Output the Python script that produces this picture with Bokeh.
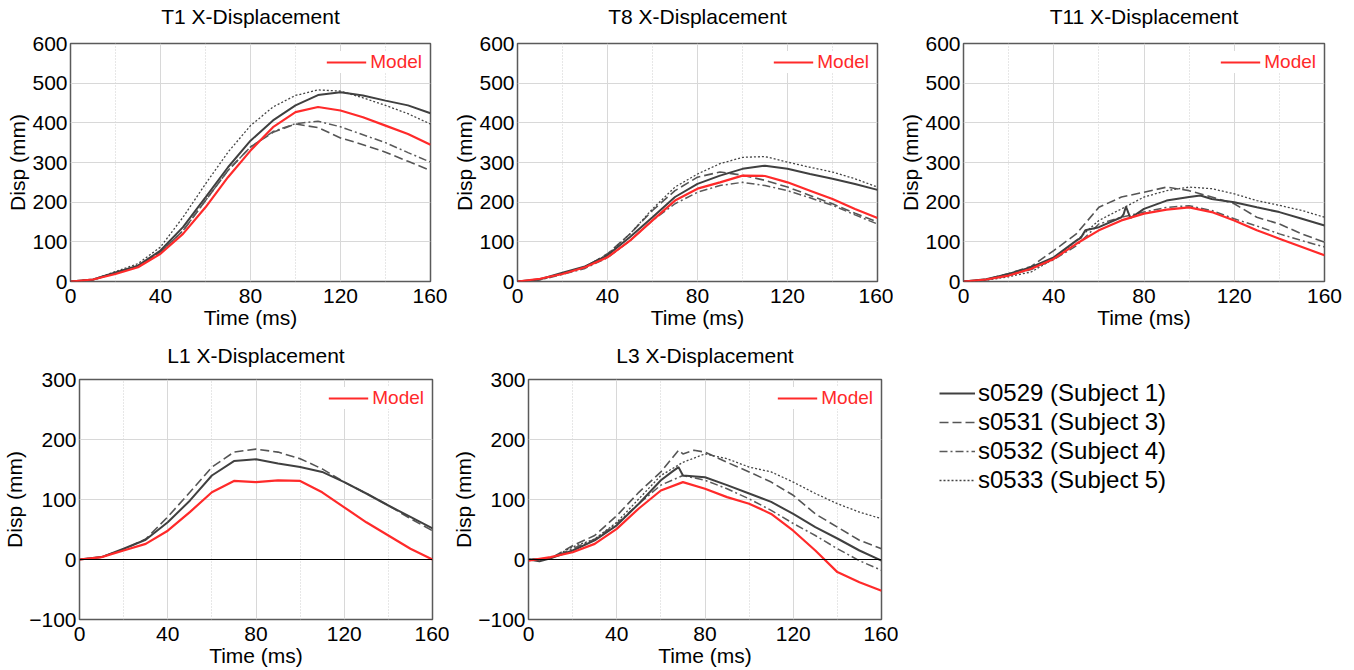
from bokeh.plotting import figure
from bokeh.layouts import row, column
from bokeh.models import Legend, LegendItem, Span, FixedTicker, Range1d, Title
from bokeh.embed import file_html
from bokeh.resources import INLINE

FONT = "Liberation Sans"

# ---------------- data ----------------
T = [0, 10, 20, 30, 40, 50, 60, 70, 80, 90, 100, 110, 120, 130, 140, 150, 160]

# T1 X-Displacement
t1_model = [0, 5, 19, 36, 70, 120, 187, 263, 330, 389, 427, 440, 431, 414, 393, 372, 345]
t1_s0529 = [0, 5, 23, 40, 78, 137, 212, 288, 355, 406, 444, 470, 477, 469, 456, 444, 424]
t1_s0531 = [0, 4, 22, 39, 74, 128, 204, 280, 339, 376, 397, 388, 362, 345, 326, 303, 280]
t1_s0532 = [0, 4, 22, 39, 74, 128, 204, 280, 339, 378, 398, 404, 390, 370, 350, 325, 301]
t1_s0533 = [0, 5, 25, 45, 87, 162, 246, 326, 393, 440, 469, 483, 480, 463, 444, 423, 397]

# T8 X-Displacement
t8_model = [0, 7, 19, 36, 61, 103, 154, 204, 234, 250, 267, 266, 250, 229, 208, 183, 160]
t8_s0529 = [0, 6, 22, 38, 66, 112, 162, 213, 246, 267, 284, 292, 284, 271, 259, 246, 231]
t8_s0531 = [0, 5, 20, 36, 70, 120, 179, 229, 263, 276, 268, 255, 238, 217, 196, 172, 150]
t8_s0532 = [0, 4, 18, 33, 60, 103, 154, 196, 225, 242, 250, 242, 229, 211, 192, 168, 145]
t8_s0533 = [0, 5, 20, 38, 68, 120, 183, 238, 271, 297, 313, 315, 301, 288, 276, 259, 238]

# T11 X-Displacement
t11_model = [0, 5, 15, 32, 57, 95, 129, 154, 171, 181, 187, 175, 154, 129, 108, 87, 66]
t11_s0529_t = [0, 10, 20, 30, 40, 50, 52, 54, 60, 70, 71, 72, 74, 80, 90, 100, 105, 110, 120, 130, 140, 150, 160]
t11_s0529 = [0, 6, 19, 36, 61, 103, 110, 129, 137, 162, 170, 189, 160, 183, 204, 213, 217, 208, 200, 187, 175, 158, 141]
t11_s0531 = [0, 5, 20, 38, 78, 120, 187, 213, 225, 238, 229, 213, 196, 162, 145, 120, 99]
t11_s0532 = [0, 4, 15, 30, 55, 90, 145, 162, 175, 187, 191, 179, 158, 140, 120, 103, 87]
t11_s0533 = [0, 3, 12, 24, 57, 103, 154, 183, 213, 229, 238, 234, 221, 204, 192, 179, 162]

# L1 X-Displacement
l1_model = [0, 4, 15, 26, 48, 79, 112, 131, 129, 132, 131, 112, 87, 62, 40, 18, 0]
l1_s0529 = [0, 4, 18, 33, 62, 98, 140, 164, 167, 160, 154, 146, 129, 110, 90, 71, 52]
l1_s0531 = [0, 4, 17, 34, 71, 112, 154, 179, 184, 179, 168, 151, 129, 110, 90, 68, 48]

# L3 X-Displacement
l3_model = [-2, 4, 12, 26, 51, 85, 115, 129, 118, 104, 93, 76, 48, 15, -21, -38, -52]
l3_s0529_t = [0, 5, 10, 20, 30, 40, 50, 60, 65, 68, 70, 80, 90, 100, 110, 120, 130, 140, 150, 160]
l3_s0529 = [0, -3, 2, 15, 32, 57, 93, 132, 146, 154, 140, 137, 124, 110, 96, 76, 54, 35, 15, -2]
l3_s0531_t = [0, 10, 20, 30, 40, 50, 60, 68, 70, 75, 80, 90, 100, 110, 120, 130, 140, 150, 160]
l3_s0531 = [0, 2, 23, 40, 73, 112, 146, 182, 176, 182, 179, 162, 146, 129, 107, 76, 54, 32, 18]
l3_s0532 = [0, 2, 18, 34, 60, 93, 124, 140, 132, 118, 101, 82, 60, 40, 18, -2, -18]
l3_s0533 = [0, 2, 21, 34, 62, 101, 140, 162, 176, 168, 154, 146, 129, 110, 93, 79, 68]

x_ticks = [0, 40, 80, 120, 160]
x_minor = [20, 60, 100, 140]
y_ticks_t = [0, 100, 200, 300, 400, 500, 600]
y_ticks_l = [-100, 0, 100, 200, 300]

subject_keys = ["s0529", "s0531", "s0532", "s0533"]
subject_names = ["s0529 (Subject 1)", "s0531 (Subject 3)", "s0532 (Subject 4)", "s0533 (Subject 5)"]

# ---------------- styles ----------------
RED = "#ff2a2a"
STYLES = {
    "s0529": dict(line_color="#404040", line_width=2.0, line_dash="solid"),
    "s0531": dict(line_color="#555555", line_width=1.6, line_dash="9 4"),
    "s0532": dict(line_color="#5a5a5a", line_width=1.5, line_dash="8 3 2 3"),
    "s0533": dict(line_color="#444444", line_width=1.3, line_dash="2 2"),
}


def make_panel(title, yr, yticks, series, model, width, height, bl, br, bt, bb, gap, zero=False):
    p = figure(width=width, height=height, output_backend="svg", toolbar_location=None,
               title=None, x_range=Range1d(0, 160), y_range=Range1d(*yr),
               min_border_left=bl, min_border_right=br, min_border_top=bt, min_border_bottom=bb)

    # spacer between frame and title, then the title itself
    p.add_layout(Title(text=" ", text_font_size="1px", standoff=gap), "above")
    p.add_layout(Title(text=title, align="center", text_font=FONT, text_font_size="21px",
                       text_font_style="normal", text_color="#000000", standoff=0), "above")

    p.xaxis.ticker = FixedTicker(ticks=x_ticks, minor_ticks=x_minor)
    p.yaxis.ticker = FixedTicker(ticks=yticks)
    p.xaxis.axis_label = "Time (ms)"
    p.yaxis.axis_label = "Disp (mm)"
    for ax in (p.xaxis[0], p.yaxis[0]):
        ax.axis_label_text_font = FONT
        ax.axis_label_text_font_size = "21px"
        ax.axis_label_text_font_style = "normal"
        ax.axis_label_text_color = "#000000"
        ax.major_label_text_font = FONT
        ax.major_label_text_font_size = "21px"
        ax.major_label_text_color = "#000000"
        ax.major_tick_line_color = None
        ax.minor_tick_line_color = None
        ax.major_tick_out = 0
        ax.major_tick_in = 0
        ax.minor_tick_out = 0
        ax.minor_tick_in = 0
        ax.axis_line_color = None
        ax.major_label_standoff = 3
        ax.axis_label_standoff = 0
    p.xaxis.major_label_standoff = 7

    p.xgrid.grid_line_color = "#d8d8d8"
    p.xgrid.grid_line_width = 1
    p.xgrid.minor_grid_line_color = "#cfcfcf"
    p.xgrid.minor_grid_line_dash = "1 2"
    p.ygrid.grid_line_color = "#d8d8d8"
    p.outline_line_color = "#5a5a5a"
    p.outline_line_width = 1.5

    if zero:
        p.add_layout(Span(location=0, dimension="width", line_color="#000000", line_width=1))

    for key, (tx, vals) in series.items():
        p.line(tx, vals, **STYLES[key])

    rm = p.line(T, model, line_color=RED, line_width=2.2)
    leg = Legend(items=[LegendItem(label="Model", renderers=[rm])], location="top_right")
    leg.label_text_color = RED
    leg.label_text_font = FONT
    leg.label_text_font_size = "19px"
    leg.glyph_width = 40
    leg.glyph_height = 20
    leg.label_height = 20
    leg.label_standoff = 4
    leg.padding = 8
    leg.margin = 8
    leg.border_line_color = None
    leg.background_fill_color = "white"
    leg.background_fill_alpha = 1.0
    p.add_layout(leg)
    return p


p1 = make_panel("T1 X-Displacement", (0, 600), y_ticks_t,
                {"s0531": (T, t1_s0531), "s0532": (T, t1_s0532), "s0533": (T, t1_s0533), "s0529": (T, t1_s0529)},
                t1_model, 447, 333, 70, 17, 43, 52, 13)
p2 = make_panel("T8 X-Displacement", (0, 600), y_ticks_t,
                {"s0531": (T, t8_s0531), "s0532": (T, t8_s0532), "s0533": (T, t8_s0533), "s0529": (T, t8_s0529)},
                t8_model, 446, 333, 70, 16, 43, 52, 13)
p3 = make_panel("T11 X-Displacement", (0, 600), y_ticks_t,
                {"s0531": (T, t11_s0531), "s0532": (T, t11_s0532), "s0533": (T, t11_s0533), "s0529": (t11_s0529_t, t11_s0529)},
                t11_model, 461, 333, 70, 30, 43, 52, 13)
p4 = make_panel("L1 X-Displacement", (-100, 300), y_ticks_l,
                {"s0531": (T, l1_s0531), "s0529": (T, l1_s0529)},
                l1_model, 449, 337, 77, 17, 46, 51, 10, zero=True)
p5 = make_panel("L3 X-Displacement", (-100, 300), y_ticks_l,
                {"s0531": (l3_s0531_t, l3_s0531), "s0532": (T, l3_s0532), "s0533": (T, l3_s0533), "s0529": (l3_s0529_t, l3_s0529)},
                l3_model, 449, 337, 77, 17, 46, 51, 10, zero=True)

# subject legend panel
pl = figure(width=456, height=337, output_backend="svg", toolbar_location=None, title=None,
            x_axis_type=None, y_axis_type=None, x_range=Range1d(0, 1), y_range=Range1d(0, 1),
            min_border_left=41, min_border_top=46, min_border_right=0, min_border_bottom=51)
pl.outline_line_color = None
pl.xgrid.visible = False
pl.ygrid.visible = False
items = []
for key, name in zip(subject_keys, subject_names):
    r = pl.line([5, 6], [5, 6], **STYLES[key])
    items.append(LegendItem(label=name, renderers=[r]))
lg = Legend(items=items, location="top_left")
lg.label_text_font = FONT
lg.label_text_font_size = "24px"
lg.label_text_color = "#000000"
lg.glyph_width = 36
lg.glyph_height = 26
lg.label_height = 26
lg.spacing = 1
lg.label_standoff = 3
lg.padding = 0
lg.margin = 0
lg.border_line_color = None
lg.background_fill_alpha = 0
pl.add_layout(lg)

layout = column(row(p1, p2, p3), row(p4, p5, pl))
open("out.html", "w").write(file_html(layout, INLINE))
